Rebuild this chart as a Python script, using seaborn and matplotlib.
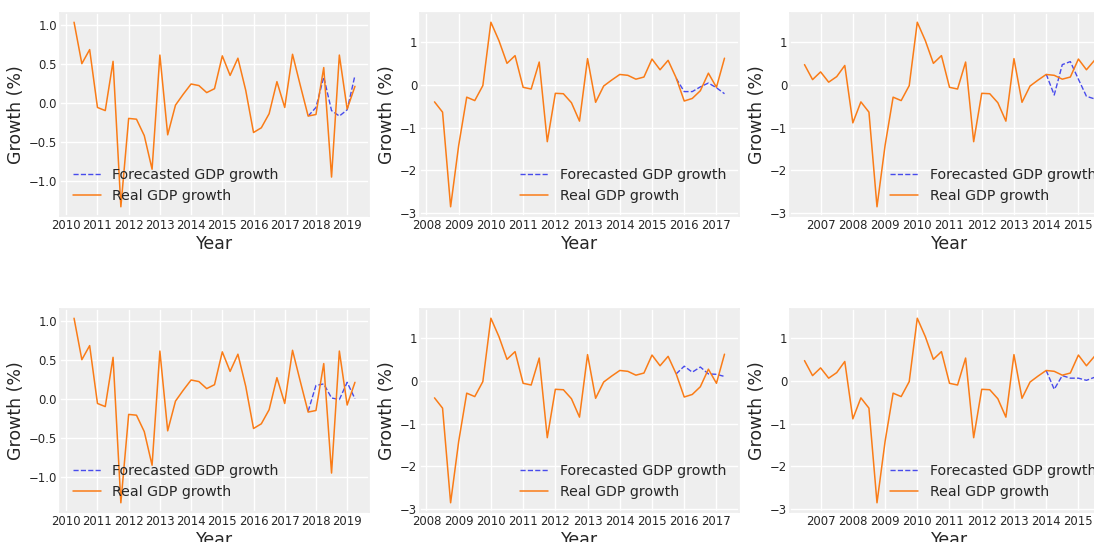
import pandas as pd
import seaborn as sns
import matplotlib.pyplot as plt
from matplotlib.ticker import MultipleLocator, FuncFormatter

# -----------------------------------------------------------------------------
# Datos: crecimiento trimestral del PIB (%), 2006Q3 - 2019Q2
# -----------------------------------------------------------------------------
first_quarter = "2006Q3"
real_growth = [
    0.47, 0.12, 0.30, 0.06, 0.19, 0.45, -0.89, -0.40, -0.64, -2.85,
    -1.42, -0.29, -0.37, -0.02, 1.46, 1.03, 0.50, 0.68, -0.06, -0.10,
    0.53, -1.33, -0.20, -0.21, -0.42, -0.85, 0.61, -0.41, -0.03, 0.11,
    0.24, 0.22, 0.13, 0.18, 0.60, 0.35, 0.57, 0.16, -0.38, -0.32,
    -0.14, 0.27, -0.06, 0.62, 0.22, -0.17, -0.15, 0.45, -0.95, 0.61,
    -0.08, 0.21,
]

# ventanas mostradas en cada columna (inicio, fin)
windows = [("2010Q2", "2019Q2"), ("2008Q2", "2017Q2"), ("2006Q3", "2015Q3")]

# pronósticos (últimos 7 trimestres de cada ventana)
forecast_a_col1 = [-0.17, -0.06, 0.33, -0.10, -0.17, -0.09, 0.35]
forecast_a_col2 = [0.15, -0.16, -0.16, -0.05, 0.04, -0.07, -0.21]
forecast_a_col3 = [0.25, -0.24, 0.47, 0.54, 0.13, -0.27, -0.33]
forecast_b_col1 = [-0.16, 0.17, 0.19, 0.01, -0.01, 0.21, 0.00]
forecast_b_col2 = [0.16, 0.34, 0.20, 0.32, 0.16, 0.15, 0.10]
forecast_b_col3 = [0.24, -0.20, 0.12, 0.06, 0.06, 0.01, 0.08]

forecasts = [
    [forecast_a_col1, forecast_a_col2, forecast_a_col3],
    [forecast_b_col1, forecast_b_col2, forecast_b_col3],
]
legend_locs = ["lower left", "lower right", "lower right"]

REAL_COLOR = "#fa7c17"
FC_COLOR = "#2a2eec"

# -----------------------------------------------------------------------------
sns.set_theme(style="darkgrid", rc={
    "axes.facecolor": "#eeeeee",
    "grid.color": "white",
    "grid.linewidth": 1.0,
    "axes.edgecolor": "#eeeeee",
})
plt.rcParams["font.family"] = ["DejaVu Sans"]

quarters = pd.period_range(first_quarter, periods=len(real_growth), freq="Q")
df = pd.DataFrame({"quarter": quarters, "growth": real_growth})
df["year"] = df["quarter"].dt.year + (df["quarter"].dt.quarter - 1) / 4

W, H = 1094, 542
fig = plt.figure(figsize=(W / 100, H / 100), dpi=100)

lefts = [60, 420, 790]
widths = [309, 319, 319]
tops = [13, 309]
height = 203

for r in range(2):
    for c in range(3):
        ax = fig.add_axes([lefts[c] / W, (H - tops[r] - height) / H,
                           widths[c] / W, height / H])
        start, end = windows[c]
        sub = df[(df["quarter"] >= pd.Period(start, "Q")) &
                 (df["quarter"] <= pd.Period(end, "Q"))]
        fc = forecasts[r][c]
        fc_years = sub["year"].values[-len(fc):]

        sns.lineplot(x=fc_years, y=fc, ax=ax, color=FC_COLOR, linestyle="--",
                     linewidth=1.0, alpha=0.85, label="Forecasted GDP growth")
        sns.lineplot(data=sub, x="year", y="growth", ax=ax, color=REAL_COLOR,
                     linewidth=1.1, label="Real GDP growth")

        ax.xaxis.set_major_locator(MultipleLocator(1))
        ax.xaxis.set_major_formatter(FuncFormatter(lambda v, p: f"{int(round(v))}"))
        ax.tick_params(axis="both", labelsize=8.4, pad=2, length=0)
        ax.set_xlabel("Year", fontsize=12.5, labelpad=2)
        ax.set_ylabel("Growth (%)", fontsize=12.5, labelpad=3)
        ax.legend(loc=legend_locs[c], frameon=False, fontsize=10.2)

plt.savefig("out.png", dpi=100)
